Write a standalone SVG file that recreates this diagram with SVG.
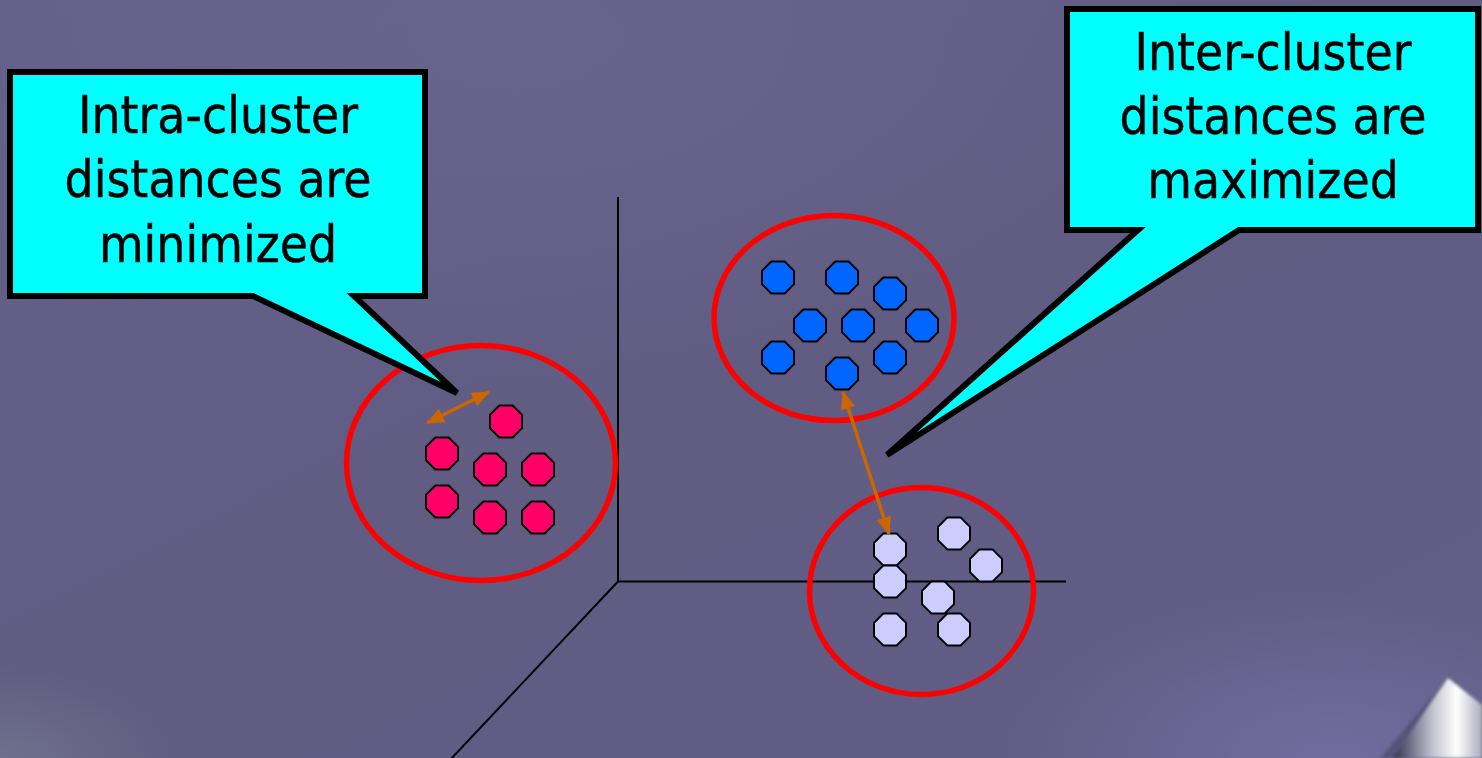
<svg xmlns="http://www.w3.org/2000/svg" xmlns:xlink="http://www.w3.org/1999/xlink" width="1482" height="758" viewBox="0 0 1482 758">
  <defs>
    <style>
      .callout { fill: #00FFFF; stroke: #000000; stroke-width: 6; stroke-linejoin: miter; stroke-miterlimit: 3; }
      .label { font-family: "DejaVu Sans Condensed", "DejaVu Sans", Verdana, sans-serif; font-size: 51px; fill: #000000; stroke: #000000; stroke-width: 0.4; text-anchor: middle; }
      .cluster-ring { fill: none; stroke: #FF0000; stroke-width: 5.5; }
      .axis { stroke: #000000; stroke-width: 2; fill: none; }
      .pt { stroke: #000000; stroke-width: 2; }
      .pt-red { fill: #FF0066; }
      .pt-blue { fill: #0066FF; }
      .pt-lav { fill: #CCCCFF; }
      .dist { stroke: #CC6600; stroke-width: 3.5; fill: none; }
    </style>
    <!-- regular octagon, flat sides up/down/left/right -->
    <path id="oct" d="M-6.7,-16 L6.7,-16 L16,-6.7 L16,6.7 L6.7,16 L-6.7,16 L-16,6.7 L-16,-6.7 Z"/>
    <marker id="head" viewBox="0 0 18 15" refX="17" refY="7.5" markerWidth="18" markerHeight="15" markerUnits="userSpaceOnUse" orient="auto-start-reverse">
      <path d="M0,0 L18,7.5 L0,15 Z" fill="#CC6600"/>
    </marker>
    <linearGradient id="bgBase" x1="0" y1="0" x2="1" y2="1">
      <stop offset="0" stop-color="#65608A"/>
      <stop offset="0.5" stop-color="#615C82"/>
      <stop offset="1" stop-color="#625D86"/>
    </linearGradient>
    <radialGradient id="glowTop" cx="0.35" cy="0.05" r="0.45">
      <stop offset="0" stop-color="#6A668E" stop-opacity="0.7"/>
      <stop offset="1" stop-color="#6A668E" stop-opacity="0"/>
    </radialGradient>
    <radialGradient id="glowBL" cx="0" cy="1" r="0.12">
      <stop offset="0" stop-color="#727590" stop-opacity="0.8"/>
      <stop offset="1" stop-color="#727590" stop-opacity="0"/>
    </radialGradient>
    <radialGradient id="glowBR" cx="0.9" cy="1" r="0.22">
      <stop offset="0" stop-color="#7470A4" stop-opacity="0.8"/>
      <stop offset="1" stop-color="#7470A4" stop-opacity="0"/>
    </radialGradient>
    <linearGradient id="cone" x1="1393" y1="0" x2="1482" y2="0" gradientUnits="userSpaceOnUse">
      <stop offset="0" stop-color="#34324C"/>
      <stop offset="0.18" stop-color="#6C6A82"/>
      <stop offset="0.45" stop-color="#C4C4D0"/>
      <stop offset="0.72" stop-color="#FFFFFF"/>
      <stop offset="1" stop-color="#ACACBC"/>
    </linearGradient>
    <filter id="soft" x="-20%" y="-20%" width="140%" height="140%">
      <feGaussianBlur stdDeviation="1.5"/>
    </filter>
  </defs>

  <!-- backdrop -->
  <g id="background">
    <rect width="1482" height="758" fill="url(#bgBase)"/>
    <rect width="1482" height="758" fill="url(#glowTop)"/>
    <rect width="1482" height="758" fill="url(#glowBL)"/>
    <rect width="1482" height="758" fill="url(#glowBR)"/>
    <g filter="url(#soft)">
      <polygon points="1448,678 1380,758 1400,758" fill="#3E3B5E" opacity="0.5"/>
      <polygon points="1448,678 1393,758 1482,758 1482,705" fill="url(#cone)"/>
    </g>
  </g>

  <!-- 3D axes -->
  <g id="axes">
    <line class="axis" x1="618" y1="197" x2="618" y2="582"/>
    <line class="axis" x1="617" y1="581.5" x2="1066" y2="581.5"/>
    <line class="axis" x1="618" y1="581.5" x2="450" y2="760"/>
  </g>

  <!-- cluster A (red) -->
  <g id="cluster-red">
    <ellipse class="cluster-ring" cx="481" cy="463" rx="134.5" ry="117.5"/>
    <use xlink:href="#oct" class="pt pt-red" x="506" y="421.5"/>
    <use xlink:href="#oct" class="pt pt-red" x="442" y="453.5"/>
    <use xlink:href="#oct" class="pt pt-red" x="490" y="469.5"/>
    <use xlink:href="#oct" class="pt pt-red" x="538" y="469.5"/>
    <use xlink:href="#oct" class="pt pt-red" x="442" y="501.5"/>
    <use xlink:href="#oct" class="pt pt-red" x="490" y="517.5"/>
    <use xlink:href="#oct" class="pt pt-red" x="538" y="517.5"/>
  </g>

  <!-- cluster B (blue) -->
  <g id="cluster-blue">
    <ellipse class="cluster-ring" cx="834" cy="318" rx="120" ry="102.5"/>
    <use xlink:href="#oct" class="pt pt-blue" x="778" y="277.5"/>
    <use xlink:href="#oct" class="pt pt-blue" x="842" y="277.5"/>
    <use xlink:href="#oct" class="pt pt-blue" x="890" y="293.5"/>
    <use xlink:href="#oct" class="pt pt-blue" x="810" y="325.5"/>
    <use xlink:href="#oct" class="pt pt-blue" x="858" y="325.5"/>
    <use xlink:href="#oct" class="pt pt-blue" x="922" y="325.5"/>
    <use xlink:href="#oct" class="pt pt-blue" x="778" y="357.5"/>
    <use xlink:href="#oct" class="pt pt-blue" x="890" y="357.5"/>
    <use xlink:href="#oct" class="pt pt-blue" x="842" y="373.5"/>
  </g>

  <!-- cluster C (lavender) -->
  <g id="cluster-lavender">
    <ellipse class="cluster-ring" cx="921.5" cy="591" rx="112" ry="103.5"/>
    <use xlink:href="#oct" class="pt pt-lav" x="954" y="533.5"/>
    <use xlink:href="#oct" class="pt pt-lav" x="986" y="565.5"/>
    <use xlink:href="#oct" class="pt pt-lav" x="890" y="549.5"/>
    <use xlink:href="#oct" class="pt pt-lav" x="890" y="581.5"/>
    <use xlink:href="#oct" class="pt pt-lav" x="938" y="597.5"/>
    <use xlink:href="#oct" class="pt pt-lav" x="890" y="629.5"/>
    <use xlink:href="#oct" class="pt pt-lav" x="954" y="629.5"/>
  </g>

  <!-- distance arrows -->
  <g id="connectors">
    <line class="dist" x1="427" y1="423" x2="489" y2="392" marker-start="url(#head)" marker-end="url(#head)"/>
    <line class="dist" x1="843" y1="392" x2="889" y2="534" marker-start="url(#head)" marker-end="url(#head)"/>
  </g>

  <!-- callouts -->
  <g id="callout-intra">
    <path class="callout" d="M10,72 H425 V296 H354 L457,393 L253,296 H10 Z"/>
    <text class="label" x="218" y="133">Intra-cluster</text>
    <text class="label" x="218" y="197">distances are</text>
    <text class="label" x="218" y="262">minimized</text>
  </g>

  <g id="callout-inter">
    <path class="callout" d="M1067,9 H1478 V230 H1239 L887,455 L1138,230 H1067 Z"/>
    <text class="label" x="1273" y="70">Inter-cluster</text>
    <text class="label" x="1273" y="134">distances are</text>
    <text class="label" x="1273" y="198">maximized</text>
  </g>
</svg>
